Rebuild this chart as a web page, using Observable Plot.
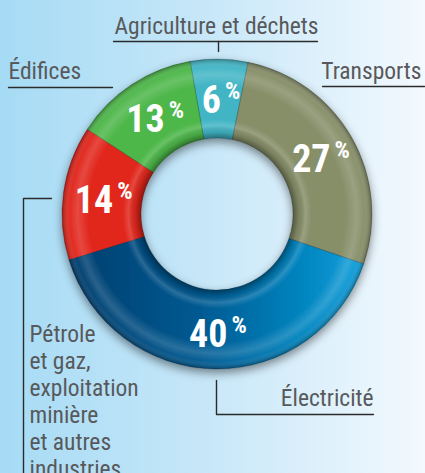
<!DOCTYPE html>
<html><head><meta charset="utf-8">
<script src="https://cdn.jsdelivr.net/npm/d3@7"></script>
<script src="https://cdn.jsdelivr.net/npm/@observablehq/plot@0.6"></script>
<style>
html,body{margin:0;padding:0;}
body{width:425px;height:473px;overflow:hidden;background:linear-gradient(to right,#a6dbf5 0%,#c4e6f8 45%,#f3f9fe 100%);}
#chart svg{display:block;}
</style></head><body><div id="chart"></div>
<script>
// ---- data ----
const categories = ["Agriculture et déchets", "Transports", "Électricité", "Pétrole\net gaz,\nexploitation\nminière\net autres\nindustries", "Édifices"];
const shares = [6, 27, 40, 14, 13];
const sliceColors = ["#42b5c5", "#878f69", "#0a6fa8", "#e1251f", "#4db748"];

// ---- layout ----
const W = 425, H = 473;
const CX = 217, CY = 214, R_OUT = 155, R_IN = 76, R_LAB = 117;
const START = -10 * Math.PI / 180;
const FONT = "'Roboto Condensed', Roboto, sans-serif";

const pie = d3.pie().sort(null).value(d => d.value).startAngle(START).endAngle(START + 2 * Math.PI);
const table = categories.map((c, i) => ({category: c, value: shares[i], color: sliceColors[i]}));
const arcs = pie(table);
const mids = arcs.map(a => ({...a.data, mid: (a.startAngle + a.endAngle) / 2}));

const labelPos = [
  {x: 216, y: 25, anchor: "middle", line: "middle"},
  {x: 421, y: 70, anchor: "end", line: "middle"},
  {x: 373, y: 397, anchor: "end", line: "middle"},
  {x: 29, y: 322, anchor: "start", line: "top"},
  {x: 8, y: 70, anchor: "start", line: "middle"}
];
const labels = categories.map((c, i) => ({text: c, ...labelPos[i]}));

const leaders = [
  [[113, 41], [317, 41]], [[218, 41], [218, 51]],
  [[8, 87], [112, 87]],
  [[322, 86], [424, 86]],
  [[51, 198], [23, 198], [23, 473]],
  [[216, 380], [216, 414], [373, 414]]
].flatMap((pts, k) => pts.map(([x, y]) => ({k, x, y})));

function donutMark(...args) {
  const scales = args.find(a => a && typeof a.x === "function" && typeof a.y === "function");
  const cx = scales.x(CX), cy = scales.y(CY);
  const ro = scales.x(CX + R_OUT) - cx, ri = scales.x(CX + R_IN) - cx;
  const g = d3.create("svg:g");
  const defs = g.append("defs");
  const f = defs.append("filter").attr("id", "dshadow").attr("x", "-20%").attr("y", "-20%").attr("width", "140%").attr("height", "140%");
  f.append("feDropShadow").attr("dx", 0).attr("dy", 4).attr("stdDeviation", 5).attr("flood-color", "#000").attr("flood-opacity", 0.45);
  const lg = defs.append("linearGradient").attr("id", "blueGrad").attr("gradientUnits", "userSpaceOnUse")
    .attr("x1", -ro).attr("y1", 0).attr("x2", ro).attr("y2", 0);
  lg.append("stop").attr("offset", 0).attr("stop-color", "#003c6c");
  lg.append("stop").attr("offset", 0.45).attr("stop-color", "#035a92");
  lg.append("stop").attr("offset", 1).attr("stop-color", "#08a3df");
  const rg = defs.append("radialGradient").attr("id", "gloss").attr("gradientUnits", "userSpaceOnUse")
    .attr("cx", 0).attr("cy", 0).attr("r", ro);
  const k = ri / ro;
  [[k, "#000", 0.38], [k + 0.04, "#000", 0.08], [k + 0.08, "#fff", 0.16], [k + 0.12, "#fff", 0.0],
   [0.83, "#fff", 0], [0.9, "#fff", 0.16], [0.95, "#fff", 0.03], [1, "#000", 0.3]]
    .forEach(([o, c, a]) => rg.append("stop").attr("offset", o).attr("stop-color", c).attr("stop-opacity", a));
  const arc = d3.arc().innerRadius(ri).outerRadius(ro);
  const ring = g.append("g").attr("transform", `translate(${cx},${cy})`);
  const base = ring.append("g").attr("filter", "url(#dshadow)");
  base.selectAll("path").data(arcs).join("path")
    .attr("d", arc)
    .attr("fill", d => d.index === 2 ? "url(#blueGrad)" : d.data.color)
    .attr("stroke", "rgba(0,0,0,0.18)").attr("stroke-width", 1);
  ring.append("g").selectAll("path").data(arcs).join("path")
    .attr("d", arc).attr("fill", "url(#gloss)");
  return g.node();
}

const plot = Plot.plot({
  width: W, height: H,
  margin: 0,
  x: {domain: [0, W], range: [0, W], axis: null},
  y: {domain: [0, H], range: [0, H], axis: null},
  style: {background: "transparent", fontFamily: FONT},
  marks: [
    donutMark,
    Plot.text(mids, {
      x: d => CX + R_LAB * Math.sin(d.mid),
      y: d => CY - R_LAB * Math.cos(d.mid),
      text: d => String(d.value),
      fill: "white", fontSize: 38, fontWeight: "bold",
      textAnchor: "middle", lineAnchor: "middle", dy: 3, dx: 2
    }),
    Plot.line(leaders, {x: "x", y: "y", z: "k", stroke: "#2b2b2b", strokeWidth: 1.4}),
    ...labels.map(l => Plot.text([l], {
      x: "x", y: "y", text: "text", textAnchor: l.anchor, lineAnchor: l.line,
      fill: "#58595b", fontSize: 23.5, lineHeight: 1.15
    }))
  ]
});
const pctStrings = new Set(shares.map(String));
plot.querySelectorAll("text").forEach(node => {
  const g = node.closest("g[fill]");
  const isWhite = (g && /white|#fff/i.test(g.getAttribute("fill"))) || /white|#fff/i.test(node.getAttribute("fill") || "");
  if (isWhite && pctStrings.has(node.textContent.trim())) {
    const ts = document.createElementNS("http://www.w3.org/2000/svg", "tspan");
    ts.setAttribute("font-size", 24);
    ts.setAttribute("font-weight", 700);
    ts.setAttribute("dx", 4);
    ts.setAttribute("dy", "-0.58em");
    ts.textContent = "%";
    node.appendChild(ts);
  }
  node.style.fontStretch = "condensed";
});
document.getElementById("chart").appendChild(plot);
</script>
</body></html>
